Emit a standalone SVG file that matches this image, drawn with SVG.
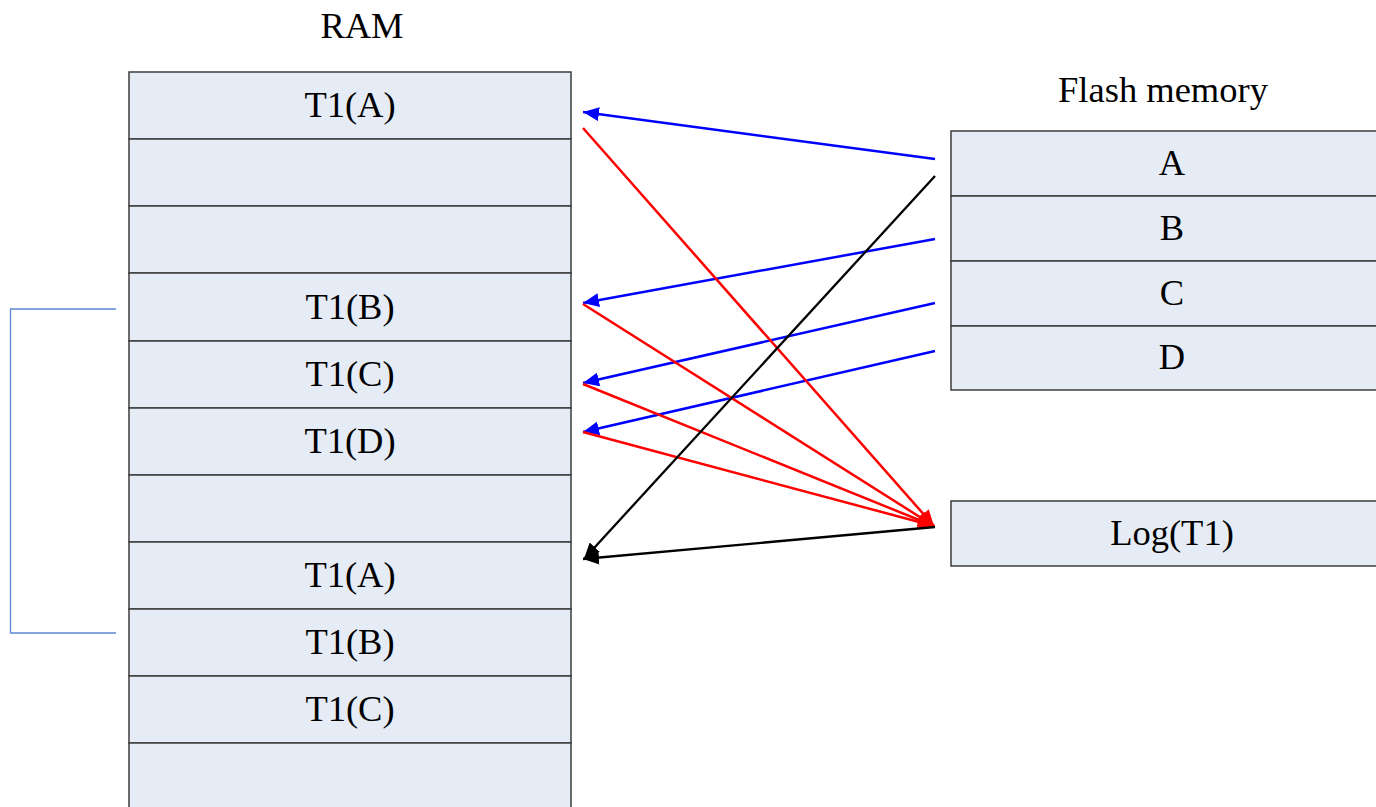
<svg xmlns="http://www.w3.org/2000/svg" width="1376" height="807" viewBox="0 0 1376 807">
  <style>
    .cell { fill: #e6ecf6; stroke: #3c3c3c; stroke-width: 1.5; }
    .lbl { font-family: "Liberation Serif", "Times New Roman", serif; font-size: 36.5px; fill: #000; text-anchor: middle; }
    .blue { stroke: #0000ff; stroke-width: 2.5; fill: none; }
    .red { stroke: #ff0000; stroke-width: 2.5; fill: none; }
    .black { stroke: #000; stroke-width: 2.3; fill: none; }
    .bracket { stroke: #5b87d4; stroke-width: 1.3; fill: none; }
  </style>
  <defs>
    <marker id="ah-blue" markerUnits="userSpaceOnUse" markerWidth="18" markerHeight="14" refX="16" refY="7" orient="auto">
      <path d="M0,0 L16,7 L0,14 z" fill="#0000ff"/>
    </marker>
    <marker id="ah-red" markerUnits="userSpaceOnUse" markerWidth="18" markerHeight="14" refX="16" refY="7" orient="auto">
      <path d="M0,0 L16,7 L0,14 z" fill="#ff0000"/>
    </marker>
    <marker id="ah-black" markerUnits="userSpaceOnUse" markerWidth="18" markerHeight="14" refX="16" refY="7" orient="auto">
      <path d="M0,0 L16,7 L0,14 z" fill="#000"/>
    </marker>
  </defs>
  <rect width="1376" height="807" fill="#fff"/>

  <!-- RAM column -->
  <g id="ram">
    <text class="lbl" x="362" y="38">RAM</text>
    <g id="ram-0"><rect class="cell" x="129" y="72" width="442" height="67"/><text class="lbl" x="350" y="117">T1(A)</text></g>
    <g id="ram-1"><rect class="cell" x="129" y="139" width="442" height="67"/></g>
    <g id="ram-2"><rect class="cell" x="129" y="206" width="442" height="67"/></g>
    <g id="ram-3"><rect class="cell" x="129" y="273" width="442" height="68"/><text class="lbl" x="350" y="319">T1(B)</text></g>
    <g id="ram-4"><rect class="cell" x="129" y="341" width="442" height="67"/><text class="lbl" x="350" y="386">T1(C)</text></g>
    <g id="ram-5"><rect class="cell" x="129" y="408" width="442" height="67"/><text class="lbl" x="350" y="453">T1(D)</text></g>
    <g id="ram-6"><rect class="cell" x="129" y="475" width="442" height="67"/></g>
    <g id="ram-7"><rect class="cell" x="129" y="542" width="442" height="67"/><text class="lbl" x="350" y="587">T1(A)</text></g>
    <g id="ram-8"><rect class="cell" x="129" y="609" width="442" height="67"/><text class="lbl" x="350" y="654">T1(B)</text></g>
    <g id="ram-9"><rect class="cell" x="129" y="676" width="442" height="67"/><text class="lbl" x="350" y="721">T1(C)</text></g>
    <g id="ram-10"><rect class="cell" x="129" y="743" width="442" height="80"/></g>
  </g>

  <!-- Flash memory column -->
  <g id="flash">
    <text class="lbl" x="1163" y="102">Flash memory</text>
    <g id="flash-a"><rect class="cell" x="951" y="131" width="440" height="65"/><text class="lbl" x="1172" y="175">A</text></g>
    <g id="flash-b"><rect class="cell" x="951" y="196" width="440" height="65"/><text class="lbl" x="1172" y="240">B</text></g>
    <g id="flash-c"><rect class="cell" x="951" y="261" width="440" height="65"/><text class="lbl" x="1172" y="305">C</text></g>
    <g id="flash-d"><rect class="cell" x="951" y="326" width="440" height="64"/><text class="lbl" x="1172" y="369">D</text></g>
  </g>

  <g id="log">
    <rect class="cell" x="951" y="501" width="440" height="65"/>
    <text class="lbl" x="1172" y="545">Log(T1)</text>
  </g>

  <!-- bracket grouping the second transaction copy -->
  <g id="bracket">
    <path class="bracket" d="M116,309 H10.5 V633 H116"/>
  </g>

  <g id="connectors">
    <line class="blue" x1="935" y1="159" x2="583" y2="112" marker-end="url(#ah-blue)"/>
    <line class="blue" x1="935" y1="239" x2="583" y2="303" marker-end="url(#ah-blue)"/>
    <line class="blue" x1="935" y1="303" x2="583" y2="383" marker-end="url(#ah-blue)"/>
    <line class="blue" x1="935" y1="351" x2="583" y2="432" marker-end="url(#ah-blue)"/>

    <line class="red" x1="583" y1="128" x2="934" y2="526" marker-end="url(#ah-red)"/>
    <line class="red" x1="583" y1="304" x2="934" y2="526" marker-end="url(#ah-red)"/>
    <line class="red" x1="583" y1="384" x2="934" y2="526" marker-end="url(#ah-red)"/>
    <line class="red" x1="583" y1="432" x2="934" y2="526" marker-end="url(#ah-red)"/>

    <line class="black" x1="935" y1="176" x2="584" y2="559" marker-end="url(#ah-black)"/>
    <line class="black" x1="935" y1="527" x2="583" y2="559" marker-end="url(#ah-black)"/>
  </g>
</svg>
